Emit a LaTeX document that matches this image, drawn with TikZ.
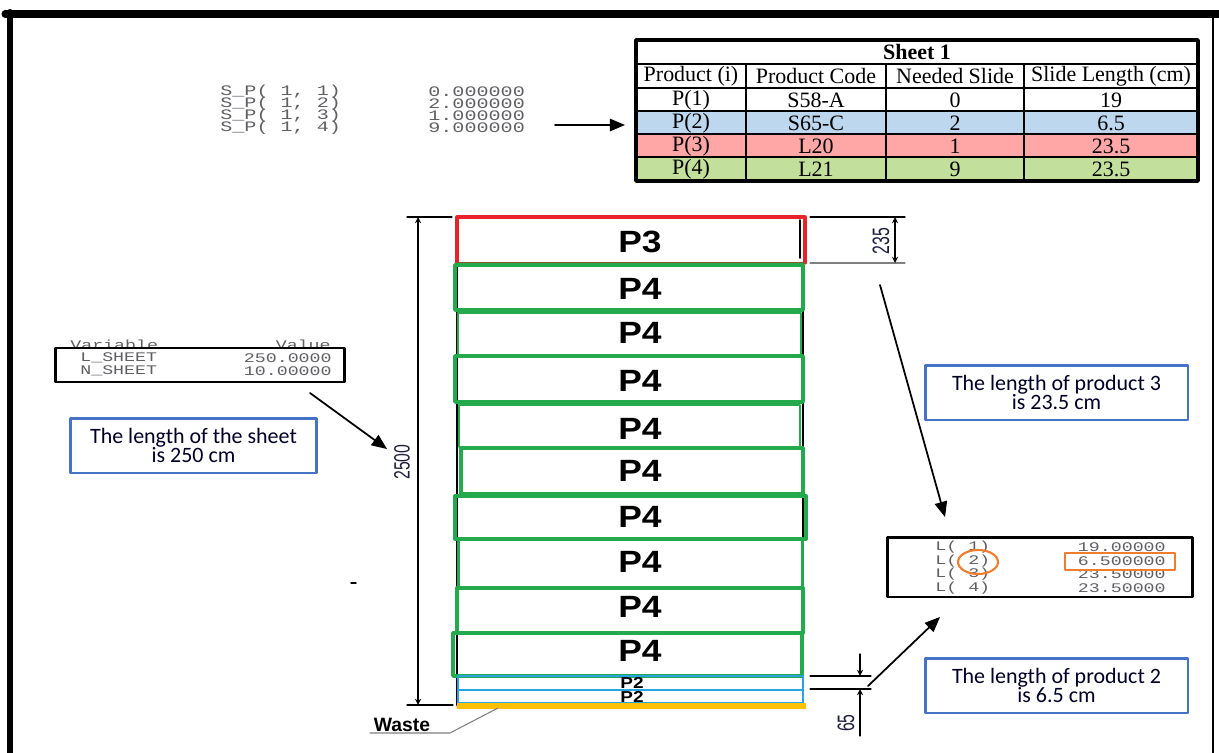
\documentclass[tikz,border=0pt]{standalone}
\usepackage{graphicx}
\usepackage{fontspec}
\setmainfont{Liberation Serif}
\setsansfont{Liberation Sans}
\setmonofont{Liberation Mono}
\newfontfamily\calibrifont{Carlito}
\usetikzlibrary{arrows,positioning}

\definecolor{cutred}{RGB}{230,35,40}
\definecolor{cutgreen}{RGB}{36,170,76}
\definecolor{cutblue}{RGB}{40,165,225}
\definecolor{wasteyellow}{RGB}{255,192,0}
\definecolor{notebl}{RGB}{68,114,196}
\definecolor{lingo}{RGB}{95,95,100}
\definecolor{circorange}{RGB}{240,125,45}
\definecolor{rowblue}{RGB}{189,215,238}
\definecolor{rowred}{RGB}{255,166,166}
\definecolor{rowgreen}{RGB}{194,224,156}
\definecolor{dimink}{RGB}{30,30,60}

\newcommand{\lingoline}[1]{\scalebox{1.04}[0.75]{#1}}

\tikzset{
  lingotxt/.style={font=\fontsize{10}{10}\selectfont\ttfamily, text=lingo, inner sep=0pt},
  lingobig/.style={font=\fontsize{11}{11}\selectfont\ttfamily, text=lingo, inner sep=0pt},
  tabtxt/.style={font=\fontsize{12.5}{12.5}\selectfont, inner sep=0pt},
  tabhead/.style={font=\fontsize{12.5}{12.5}\selectfont\bfseries, inner sep=0pt},
  ptxt/.style={font=\fontsize{17.5}{17.5}\selectfont\sffamily\bfseries, inner sep=0pt},
  psmall/.style={font=\fontsize{9}{9}\selectfont\sffamily\bfseries, inner sep=0pt},
  dimtxt/.style={font=\fontsize{9}{9}\selectfont\sffamily, text=dimink, rotate=90, inner sep=0pt},
  notebox/.style={draw=notebl, line width=1.7pt, align=center, inner sep=0pt, minimum height=1.1cm,
    font=\fontsize{12.5}{11}\selectfont\calibrifont, text=black!85!blue},
  notearrow/.style={->, line width=1pt},
  dimline/.style={line width=0.6pt}
}

\begin{document}
\begin{tikzpicture}[line cap=round,line join=round,>=triangle 45,x=0.02cm,y=-0.02cm]
\useasboundingbox (0,0) rectangle (1219,753);
\draw [line width=4pt] (5,14)-- (1219,14);
\draw [line width=3.4pt] (10,12)-- (10,753);
\draw [line width=1.2pt] (1213,16)-- (1213,753);

\foreach \k/\v [count=\i] in {1/0.000000, 2/2.000000, 3/1.000000, 4/9.000000} {
  \node[lingobig, anchor=west] (spname\i) at (220,{80+12*\i}) {\lingoline{S\_P( 1, \k)}};
  \node[lingobig, anchor=west] (spval\i) at (428,{80+12*\i}) {\lingoline{\v}};
}
\coordinate (spfoot) at (555,125);
\coordinate (tabwest) at (625,125);
\draw [notearrow] (spfoot)-- (tabwest);

\fill [rowblue] (636,111) rectangle (1198,134);
\fill [rowred] (636,134) rectangle (1198,157);
\fill [rowgreen] (636,157) rectangle (1198,181);
\foreach \y in {64,88,111,134,157} \draw [line width=1pt] (636,\y)-- (1198,\y);
\foreach \x in {746,886,1024} \draw [line width=1pt] (\x,64)-- (\x,181);
\draw [line width=2pt] (636,40) rectangle (1198,181);
\node[tabhead] (sheettitle) at (917,52) {Sheet 1};
\foreach \x/\s [count=\i] in {691/{Product (i)}, 816/{Product Code}, 955/{Needed Slide}, 1111/{Slide Length (cm)}}
  \node[tabtxt] (colhead\i) at (\x,76) {\s};
\foreach \y/\a/\b/\c/\d [count=\i] in {100/P(1)/S58-A/0/19, 123/P(2)/S65-C/2/6.5, 146/P(3)/L20/1/23.5, 169/P(4)/L21/9/23.5} {
  \node[tabtxt] (prod\i) at (691,\y) {\a};
  \node[tabtxt] (code\i) at (816,\y) {\b};
  \node[tabtxt] (need\i) at (955,\y) {\c};
  \node[tabtxt] (slen\i) at (1111,\y) {\d};
}

\draw [line width=1.6pt] (457,220)-- (457,705);
\draw [line width=1.6pt] (803,263)-- (803,705);
\draw [line width=1pt] (800,220)-- (800,258);
\draw [cutred, line width=1.8pt] (457,263)-- (457,217)-- (805,217)-- (805,263);
\draw [brown!70!black, line width=0.6pt] (457,263)-- (805,263);
\foreach \t/\b/\l/\r/\w in {265/310/455/803/2.1, 313/355/458/801/1.4, 356/402/455/803/2.1, 405/447/459/800/1.5, 448/494/461/803/1.8, 496/539/455/806/2.3, 539/588/458/802/1.7, 588/633/457/803/2.3, 633/676/453/802/2.0}
  \draw [cutgreen, line width=\w pt] (\l,\t) rectangle (\r,\b);
\draw [cutblue, line width=1.1pt] (458,676) rectangle (803,690);
\draw [cutblue, line width=1.1pt] (458,690) rectangle (803,703);
\fill [wasteyellow] (457,703) rectangle (806,709);
\node[ptxt] (pthree) at (640,242) {\scalebox{1.15}[1]{P3}};
\foreach \y [count=\i] in {289,333,381,429,471,517,562,607,651}
  \node[ptxt] (pfour\i) at (640,\y) {\scalebox{1.15}[1]{P4}};
\node[psmall] (ptwoa) at (632,683) {\scalebox{1.2}[1]{P2}};
\node[psmall] (ptwob) at (632,697) {\scalebox{1.2}[1]{P2}};

\draw [line width=0.6pt] (407,217)-- (452,217);
\draw [line width=0.6pt] (407,705)-- (453,705);
\draw [dimline, stealth-stealth] (418,217)-- (418,705);
\node[dimtxt] (dimall) at (402,462) {\scalebox{1}[1.4]{2500}};

\draw [line width=0.6pt] (810,217)-- (905,217);
\draw [gray, line width=0.6pt] (810,263)-- (905,263);
\draw [dimline, stealth-stealth] (895,217)-- (895,263);
\node[dimtxt] (dimthree) at (881,241) {\scalebox{1}[1.5]{235}};

\draw [line width=0.6pt] (810,676)-- (871,676);
\draw [line width=0.6pt] (810,689)-- (871,689);
\draw [dimline, -stealth] (860,654)-- (860,676);
\draw [dimline, -stealth] (860,736)-- (860,689);
\node[dimtxt] (dimtwo) at (846,723) {\scalebox{1}[1.5]{65}};

\draw [gray, line width=0.6pt] (370,733)-- (450,733)-- (498,708);
\node[font=\fontsize{11}{11}\selectfont\sffamily\bfseries, inner sep=0pt] (waste) at (402,725) {Waste};
\draw [line width=0.8pt] (351,583)-- (356,583);

\node[lingotxt, anchor=west] (varhead) at (70,345) {\lingoline{Variable}};
\node[lingotxt, anchor=east] (valhead) at (331,345) {\lingoline{Value}};
\node[draw, fill=white, line width=1.7pt, minimum width=5.8cm, minimum height=0.68cm, inner sep=0pt] (varbox) at (200,365) {};
\node[lingotxt, anchor=west] (lsheet) at (80,358) {\lingoline{L\_SHEET}};
\node[lingotxt, anchor=east] (lsheetval) at (332,358) {\lingoline{250.0000}};
\node[lingotxt, anchor=west] (nsheet) at (80,371) {\lingoline{N\_SHEET}};
\node[lingotxt, anchor=east] (nsheetval) at (332,371) {\lingoline{10.00000}};
\node[notebox, minimum width=4.94cm] (sheetnote) at (193.5,445.5) {The length of the sheet\\is 250 cm};
\coordinate (varfoot) at (310,393);
\coordinate (dimtip) at (387,449);
\draw [notearrow] (varfoot)-- (dimtip);

\node[notebox, minimum width=5.26cm] (pthreenote) at (1056.5,392.5) {The length of product 3\\is 23.5 cm};
\coordinate (threefoot) at (880,285);
\coordinate (threetip) at (945,517);
\draw [notearrow] (threefoot)-- (threetip);

\node[draw, line width=1.7pt, minimum width=6.12cm, minimum height=1.2cm, inner sep=0pt] (lbox) at (1040,567) {};
\foreach \k/\v [count=\i] in {1/19.00000, 2/6.500000, 3/23.50000, 4/23.50000} {
  \node[lingotxt, anchor=west] (lname\i) at (935,{534+13.5*\i}) {\lingoline{L( \k)}};
  \node[lingotxt, anchor=east] (lval\i) at (1166,{534+13.5*\i}) {\lingoline{\v}};
}
\draw [circorange, line width=1.2pt] (978,562) ellipse [x radius=0.4cm, y radius=0.24cm];
\draw [circorange, line width=1.4pt] (1065,553) rectangle (1175,570);

\node[notebox, minimum width=5.26cm] (ptwonote) at (1056.5,685.5) {The length of product 2\\is 6.5 cm};
\coordinate (twofoot) at (868,686);
\coordinate (twotip) at (940,617);
\draw [notearrow] (twofoot)-- (twotip);
\end{tikzpicture}
\end{document}
